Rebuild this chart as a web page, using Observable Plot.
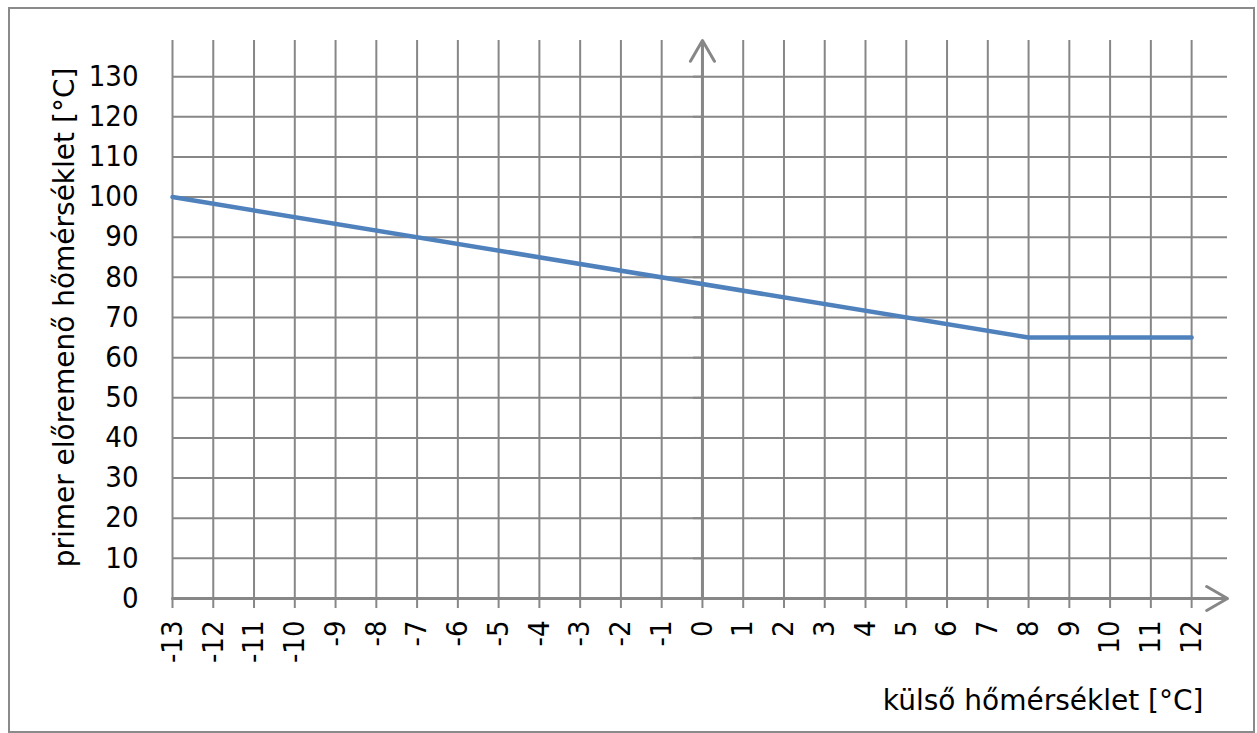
<!DOCTYPE html>
<html>
<head>
<meta charset="utf-8">
<script src="https://cdn.jsdelivr.net/npm/d3@7"></script>
<script src="https://cdn.jsdelivr.net/npm/@observablehq/plot@0.6"></script>
<style>
  html, body { margin: 0; padding: 0; background: #fff; }
  #wrap { position: relative; width: 1257px; height: 733px; overflow: hidden; }
  #frame { position: absolute; left: 8px; top: 7px; width: 1247px; height: 726px; box-sizing: border-box; border: 2px solid #8a8a8a; }
  #chart { position: absolute; left: 0; top: 0; }
</style>
</head>
<body>
<div id="wrap"><div id="frame"></div><div id="chart"></div></div>
<script>
// ---- data ----
const outsideTemp = [-13, 8, 12];          // külső hőmérséklet [°C]
const flowTemp    = [100, 65, 65];         // primer előremenő hőmérséklet [°C]
const xTicks = [-13, -12, -11, -10, -9, -8, -7, -6, -5, -4, -3, -2, -1, 0, 1, 2, 3, 4, 5, 6, 7, 8, 9, 10, 11, 12];
const yTicks = [0, 10, 20, 30, 40, 50, 60, 70, 80, 90, 100, 110, 120, 130];
const xTitle = "külső hőmérséklet [°C]";
const yTitle = "primer előremenő hőmérséklet [°C]";
const xExtent = [-13, 12.88];   // axis runs a bit past the last tick (arrow)
const yExtent = [0, 139];

const points = outsideTemp.map((x, i) => ({x, y: flowTemp[i]}));
const gridColor = "#878787";
const tickFont = "'DejaVu Sans Condensed', 'DejaVu Sans', sans-serif";

const chart = Plot.plot({
  width: 1257,
  height: 733,
  marginLeft: 172,
  marginRight: 30,
  marginTop: 40,
  marginBottom: 135,
  style: {background: "transparent", fontFamily: "'DejaVu Sans', sans-serif", color: "#000"},
  x: {domain: xExtent},
  y: {domain: yExtent},
  marks: [
    Plot.gridX(xTicks, {stroke: gridColor, strokeOpacity: 1, strokeWidth: 2}),
    Plot.gridY(yTicks, {stroke: gridColor, strokeOpacity: 1, strokeWidth: 2}),
    Plot.axisX(xTicks, {
      tickSize: 10, tickPadding: 12, tickRotate: -90, stroke: gridColor, strokeWidth: 2,
      fontSize: 29, fontFamily: tickFont, fill: "#000", label: null, tickFormat: d => `${d}`
    }),
    Plot.axisY(yTicks, {
      tickSize: 0, tickPadding: 34, fontSize: 29, fontFamily: tickFont, fill: "#000",
      label: null, tickFormat: d => `${d}`
    }),
    Plot.ruleY(yTicks, {x1: 0, x2: 0, insetLeft: -9, stroke: gridColor, strokeWidth: 2}),
    Plot.arrow([0], {x1: xExtent[0], y1: 0, x2: xExtent[1], y2: 0, stroke: gridColor, strokeWidth: 3, headLength: 12, headAngle: 60}),
    Plot.arrow([0], {x1: 0, y1: yExtent[0], x2: 0, y2: yExtent[1], stroke: gridColor, strokeWidth: 3, headLength: 12, headAngle: 60}),
    Plot.line(points, {x: "x", y: "y", stroke: "#4F81BD", strokeWidth: 4.5, strokeLinejoin: "round"}),
    Plot.text([xTitle], {frameAnchor: "bottom-right", text: d => d, textAnchor: "end", lineAnchor: "middle", dx: -24, dy: 103, fontSize: 28, fill: "#000"}),
    Plot.text([yTitle], {frameAnchor: "left", text: d => d, rotate: -90, textAnchor: "middle", lineAnchor: "bottom", dx: -99, dy: -2, fontSize: 28, fill: "#000"})
  ]
});
document.getElementById("chart").appendChild(chart);
</script>
</body>
</html>
